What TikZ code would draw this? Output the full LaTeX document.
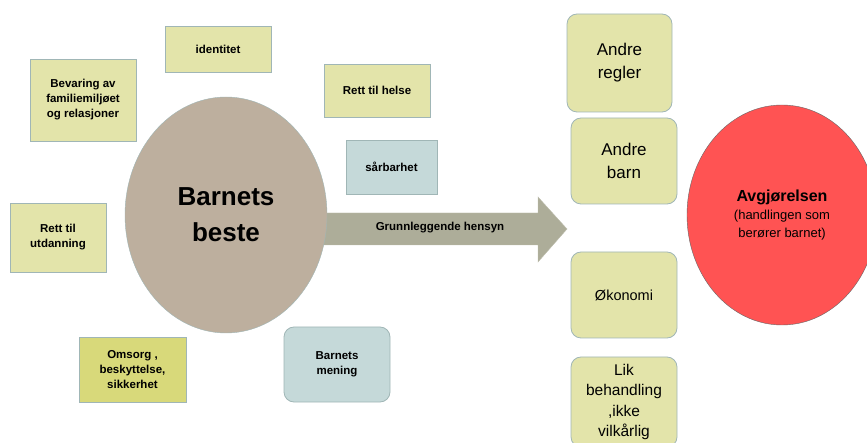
\documentclass[tikz,border=0pt]{standalone}
\usepackage{fontspec}
\setmainfont{Liberation Sans}
\usetikzlibrary{shapes.geometric}

\definecolor{gul}{RGB}{227,228,170}
\definecolor{gulmork}{RGB}{216,217,122}
\definecolor{blaa}{RGB}{197,217,217}
\definecolor{brun}{RGB}{189,175,158}
\definecolor{pilfarge}{RGB}{173,173,153}
\definecolor{rod}{RGB}{255,83,83}
\definecolor{kant}{RGB}{160,182,182}

\begin{document}
\begin{tikzpicture}[x=1pt, y=-1pt,
    lapp/.style={draw=kant, line width=.8pt, fill=gul, align=center, inner sep=2pt,
      font=\fontsize{11.5}{15}\selectfont\bfseries},
    hensyn/.style={lapp, rounded corners=10pt, font=\fontsize{17}{23}\selectfont,
      minimum width=106pt}]
			% ramme
			\useasboundingbox (0, 0) rectangle (867, 443);
			% pil
			\fill[pilfarge, draw=pilfarge!80!white] (320, 213) -- (538, 213) -- (538, 197) -- (567, 229)
				-- (538, 262) -- (538, 245) -- (320, 245) -- cycle;
			\node[font=\fontsize{11.5}{14}\selectfont\bfseries] (grunn) at (440, 228) {Grunnleggende hensyn};
			% barnets beste
			\node[ellipse, draw=kant, fill=brun, minimum width=202pt, minimum height=236pt, align=center,
				font=\fontsize{26}{36}\selectfont\bfseries] (beste) at (226, 215) {Barnets\\beste};
			% lapper rundt
			\node[lapp, minimum width=106pt, minimum height=46pt] (ident) at (218, 49) {identitet};
			\node[lapp, minimum width=106pt, minimum height=82pt] (bevar) at (83, 100) {Bevaring av\\familiemiljøet\\og relasjoner};
			\node[lapp, minimum width=106pt, minimum height=53pt] (helse) at (377, 90.5) {Rett til helse};
			\node[lapp, fill=blaa, minimum width=91pt, minimum height=54pt] (saar) at (391.5, 167) {sårbarhet};
			\node[lapp, minimum width=96pt, minimum height=69pt] (utd) at (58, 237.5) {Rett til\\utdanning};
			\node[lapp, fill=gulmork, minimum width=107pt, minimum height=65pt] (omsorg) at (132.5, 369.5) {Omsorg ,\\beskyttelse,\\sikkerhet};
			\node[lapp, fill=blaa, rounded corners=10pt, minimum width=106pt, minimum height=75pt] (mening) at (337, 364.5) {Barnets\\mening};
			% andre hensyn
			\node[hensyn, minimum width=105pt, minimum height=98pt] (regler) at (619.5, 63) {Andre\\regler};
			\node[hensyn, minimum height=86pt] (barn) at (624, 161) {Andre\\barn};
			\node[hensyn, minimum height=86pt, font=\fontsize{14.5}{20}\selectfont] (okonomi) at (624, 295) {Økonomi};
			\node[hensyn, minimum height=90pt, font=\fontsize{15.5}{20.5}\selectfont] (lik) at (624, 402) {Lik\\behandling\\,ikke\\vilkårlig};
			% avgjørelsen
			\node[ellipse, draw=black!60, fill=rod, minimum width=190pt, minimum height=220pt, align=center,
				font=\fontsize{13}{18}\selectfont] (avgj) at (782, 215) {{\fontsize{16}{18}\selectfont\bfseries Avgjørelsen}\\(handlingen som\\berører barnet)};
		\end{tikzpicture}
\end{document}
